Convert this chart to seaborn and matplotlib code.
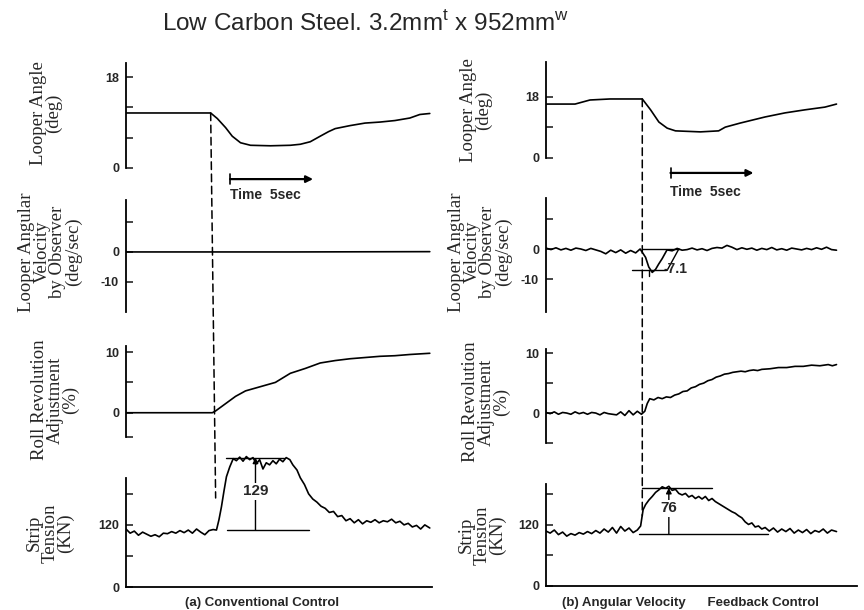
import numpy as np
import matplotlib
matplotlib.use("Agg")
import matplotlib.pyplot as plt
from matplotlib.patches import ConnectionPatch
import seaborn as sns

# ---- data (time in s) ----
# (a) conventional control
angle_a_t = [0, 2.65, 5.1, 5.5, 6.0, 6.4, 6.9, 7.5, 8.7, 9.9, 10.5, 11.1, 11.7, 12.2, 12.6,
             13.5, 14.4, 15.3, 16.2, 17.1, 17.7, 18.3]
angle_a_v = [10.9, 10.9, 10.9, 9.8, 8.0, 6.3, 5.0, 4.5, 4.4, 4.5, 4.7, 5.2, 6.3, 7.2, 7.8,
             8.4, 8.9, 9.1, 9.4, 9.9, 10.6, 10.8]

vel_a_t = [0, 5.1, 10.0, 18.3]
vel_a_v = [0, 0, 0, 0.1]

roll_a_t = [0, 3.0, 5.2, 5.4, 6.0, 6.6, 7.2, 8.1, 9.0, 9.9, 10.8, 11.7, 12.6, 13.5, 14.4,
            15.3, 16.2, 17.1, 18.3]
roll_a_v = [0, 0, 0, 0.3, 1.5, 2.7, 3.6, 4.3, 5.0, 6.5, 7.3, 8.2, 8.6, 8.9, 9.1,
            9.3, 9.4, 9.6, 9.8]

ten_a_t = [0, 0.25, 0.5, 0.75, 1.0, 1.25, 1.5, 1.75, 2.0, 2.25, 2.5, 2.75, 3.0, 3.25, 3.5,
           3.75, 4.0, 4.25, 4.5, 4.75, 5.0, 5.25,
           5.45, 5.6, 5.75, 5.9, 6.05, 6.25, 6.46, 6.65, 6.85, 7.05, 7.25, 7.45, 7.65, 7.85,
           8.05, 8.25, 8.45, 8.65, 8.85, 9.05, 9.25, 9.45, 9.65, 9.87, 10.05, 10.3, 10.5,
           10.75, 11.0, 11.25, 11.5, 11.75, 12.0, 12.25, 12.5, 12.75, 13.0, 13.25, 13.5, 13.75,
           14.0, 14.25, 14.5, 14.75, 15.0, 15.25, 15.5, 15.75, 16.0, 16.25, 16.5, 16.75, 17.0,
           17.25, 17.5, 17.75, 18.0, 18.3]
ten_a_v = [112, 104, 108, 100, 106, 102, 98, 101, 97, 104, 103, 107, 104, 109, 105,
           110, 104, 112, 106, 101, 109, 111,
           110, 130, 155, 185, 213, 232, 248, 244, 251, 243, 252, 246, 250, 238,
           246, 228, 240, 236, 244, 238, 247, 242, 250, 246, 236, 226, 211,
           198, 180, 170, 164, 156, 152, 144, 146, 136, 138, 128, 132, 124,
           130, 122, 128, 125, 130, 124, 128, 126, 131, 124, 127, 120, 123,
           116, 119, 112, 120, 114]

# (b) angular velocity feedback control
angle_b_t = [0, 1.75, 2.65, 3.85, 5.8, 6.3, 6.8, 7.3, 7.8, 9.3, 10.4, 10.8, 11.7, 13.2,
             14.4, 15.6, 16.8, 17.5]
angle_b_v = [15.9, 15.9, 17.1, 17.4, 17.4, 14.2, 10.6, 8.8, 8.0, 7.7, 8.0, 9.1, 10.3, 12.1,
             13.3, 14.2, 15.0, 15.9]

vel_b_t = [0, 0.3, 0.6, 0.9, 1.2, 1.5, 1.8, 2.1, 2.4, 2.7, 3.0, 3.3, 3.6, 3.9, 4.2, 4.5,
           4.8, 5.1, 5.4, 5.67, 6.0, 6.19, 6.4, 6.6, 6.79, 7.0, 7.29,
           7.6, 7.9, 8.2, 8.5, 8.8, 9.1, 9.4, 9.7, 10.0, 10.3, 10.6, 10.9, 11.2, 11.5, 11.8,
           12.1, 12.4, 12.7, 13.0, 13.3, 13.6, 13.9, 14.2, 14.5, 14.8, 15.1, 15.4, 15.7, 16.0,
           16.3, 16.6, 16.9, 17.2, 17.5]
vel_b_v = [0.3, -0.2, 0.4, -0.3, 0.2, -0.4, 0.3, 0.0, -0.5, 0.2, -0.3, -0.8, -1.6, -0.4,
           -1.2, -0.3, -1.4, -0.5, -1.3, 0.0, -2.8, -6.0, -7.8, -6.8, -5.0, -3.2, -0.3,
           -0.6, 0.2, -0.4, -0.2, 0.3, -0.3, 0.1, -0.5, 0.2, 0.5, 0.3, 1.2, 0.6, -0.2, 0.4,
           -0.1, 0.3, -0.4, 0.2, -0.2, 0.5, -0.3, 0.1, -0.4, 0.3, 0.0, -0.3, 0.2, -0.2,
           0.4, -0.1, 0.6, -0.2, -0.4]

roll_b_t = [0, 0.25, 0.5, 0.75, 1.0, 1.25, 1.5, 1.75, 2.0, 2.25, 2.5, 2.75, 3.0, 3.25, 3.5,
            3.75, 4.0, 4.25, 4.5, 4.75, 5.0, 5.25, 5.5, 5.75,
            5.95, 6.1, 6.25, 6.5, 6.75, 7.0, 7.25, 7.5, 7.75, 8.0, 8.25, 8.5, 8.75, 9.0,
            9.25, 9.5, 9.75, 10.0, 10.25, 10.5, 10.75, 11.0, 11.25, 11.5, 11.75, 12.0,
            12.25, 12.5, 12.75, 13.0, 13.5, 14.0, 14.5, 15.0, 15.5, 16.0, 16.5, 17.0,
            17.25, 17.5]
roll_b_v = [0.1, -0.1, 0.2, -0.2, 0.1, 0.0, -0.2, 0.2, -0.1, 0.1, -0.2, 0.1, 0.0, -0.3,
            0.1, -0.1, -0.2, -0.3, 0.2, -0.4, 0.4, -0.3, 0.3, -0.2,
            0.3, 1.6, 2.4, 2.2, 2.6, 2.4, 2.7, 2.6, 3.0, 3.2, 3.6, 3.7, 4.2, 4.4,
            4.8, 5.0, 5.4, 5.6, 6.0, 6.2, 6.5, 6.6, 6.8, 6.9, 7.0, 6.9,
            7.1, 7.2, 7.1, 7.3, 7.4, 7.6, 7.6, 7.8, 7.8, 8.0, 7.9, 8.1,
            7.9, 8.1]

ten_b_t = [0, 0.25, 0.5, 0.75, 1.0, 1.25, 1.5, 1.75, 2.0, 2.25, 2.5, 2.75, 3.0, 3.25, 3.5,
           3.75, 4.0, 4.25, 4.5, 4.75, 5.0, 5.25, 5.5,
           5.7, 5.85, 6.0, 6.2, 6.4, 6.6, 6.8, 7.0, 7.2, 7.4, 7.6, 7.8, 8.0, 8.2, 8.4, 8.6,
           8.8, 9.0, 9.2, 9.4, 9.6, 9.8, 10.0, 10.2, 10.4, 10.6, 10.8, 11.0, 11.2, 11.4,
           11.6, 11.8, 12.0, 12.2, 12.4, 12.6, 12.8, 13.0, 13.2, 13.45, 13.7, 13.95, 14.2,
           14.45, 14.7, 14.95, 15.2, 15.45, 15.7, 15.95, 16.2, 16.45, 16.7, 16.95, 17.2, 17.5]
ten_b_v = [108, 104, 110, 101, 106, 98, 103, 100, 105, 102, 107, 103, 109, 104, 112,
           106, 115, 104, 117, 108, 114, 105, 110,
           118, 150, 160, 169, 176, 184, 189, 195, 192, 196, 188, 190, 182, 179, 182, 175,
           178, 172, 176, 171, 176, 168, 172, 166, 162, 158, 154, 150, 146, 143,
           138, 134, 126, 121, 124, 116, 118, 112, 115, 108, 114, 106, 112,
           107, 113, 104, 110, 105, 111, 103, 109, 106, 112, 104, 110, 107]

# annotation levels
peak_a, base_a = 250, 110
peak_b, base_b = 193, 102
dip_b = -7.1

W, H = 864, 610

sns.set_style("ticks")
plt.rcParams['font.family'] = ['Liberation Sans', 'DejaVu Sans']
plt.rcParams['mathtext.fontset'] = 'custom'
plt.rcParams['mathtext.rm'] = 'Liberation Sans'

fig = plt.figure(figsize=(W / 100, H / 100), dpi=100)


def px_axes(x0, y0, x1, y1):
    return fig.add_axes([x0 / W, 1 - y1 / H, (x1 - x0) / W, (y1 - y0) / H])


def style_axis(ax, ylim, ticks, labels, xmax, bottom=False, bounds=None):
    ax.set_xlim(0, xmax)
    ax.set_ylim(*ylim)
    ax.set_xticks([])
    ax.set_yticks(ticks)
    ax.set_yticklabels(labels, fontweight='bold', fontsize=9)
    ax.tick_params(axis='y', direction='in', length=5, width=1.2, pad=5)
    ax.set_xlabel('')
    ax.set_ylabel('')
    sns.despine(ax=ax, bottom=not bottom)
    for s in ax.spines.values():
        s.set_linewidth(1.3)
        s.set_color('black')
    if bounds is not None:
        ax.spines['left'].set_bounds(*bounds)
    ax.patch.set_alpha(0)


def trace(ax, t, v):
    sns.lineplot(x=t, y=v, ax=ax, color='black', linewidth=1.2)


xa = 306 / 16.6
xb = 311 / 16.6

# ---- left column ----
a1 = px_axes(126, 63, 432, 168)
trace(a1, angle_a_t, angle_a_v)
style_axis(a1, (0, 20.8), [0, 6, 12, 18], ['0', '', '', '18'], xa)

a2 = px_axes(126, 200, 432, 312)
trace(a2, vel_a_t, vel_a_v)
style_axis(a2, (-20, 17.3), [-10, 0, 10], ['-10', '0', ''], xa)

a3 = px_axes(126, 346, 432, 437)
trace(a3, roll_a_t, roll_a_v)
style_axis(a3, (-4, 11), [-4, 0, 5, 10], ['', '0', '', '10'], xa)

a4 = px_axes(126, 440, 432, 587)
trace(a4, ten_a_t, ten_a_v)
style_axis(a4, (0, 284), [0, 60, 120, 180], ['0', '', '120', ''], xa, bottom=True, bounds=(0, 211))

# ---- right column ----
b1 = px_axes(546, 62, 857, 158)
trace(b1, angle_b_t, angle_b_v)
style_axis(b1, (0, 28.3), [0, 9, 18], ['0', '', '18'], xb)

b2 = px_axes(546, 198, 857, 312)
trace(b2, vel_b_t, vel_b_v)
style_axis(b2, (-21, 17), [-10, 0, 10], ['-10', '0', ''], xb)

b3 = px_axes(546, 349, 857, 443)
trace(b3, roll_b_t, roll_b_v)
style_axis(b3, (-5, 10.7), [-5, 0, 5, 10], ['', '0', '', '10'], xb)

b4 = px_axes(546, 440, 857, 586)
trace(b4, ten_b_t, ten_b_v)
style_axis(b4, (0, 287), [0, 60, 120, 180], ['0', '', '120', ''], xb, bottom=True, bounds=(0, 200))

# time scale arrows
for ax, t0, ya, yt, half in [(a1, 6.27, -2.2, -5.4, 1.0), (b1, 7.5, -4.4, -10.0, 1.5)]:
    ax.annotate('', xy=(t0 + 5, ya), xytext=(t0, ya), annotation_clip=False,
                arrowprops=dict(arrowstyle='-|>', color='black', lw=1.6,
                                mutation_scale=10, shrinkA=0, shrinkB=0))
    ax.plot([t0, t0], [ya - half, ya + half], color='black', lw=1.2, clip_on=False)
    ax.text(t0, yt, 'Time  5sec', ha='left', va='center', fontsize=10, fontweight='bold')

# dashed event lines
for top, bot, ta, va, tb, vb in [(a1, a4, 5.1, 10.9, 5.4, 172), (b1, b4, 5.8, 17.4, 5.8, 138)]:
    con = ConnectionPatch(xyA=(ta, va), coordsA=top.transData, xyB=(tb, vb), coordsB=bot.transData,
                          linestyle=(0, (5, 3)), color='black', lw=1.1)
    fig.add_artist(con)

# tension annotations
for ax, tl0, tl1, tb0, tb1, tv, pk, bs, lab in [(a4, 6.0, 9.5, 6.1, 11.0, 7.8, peak_a, base_a, '129'),
                                                (b4, 5.8, 10.0, 5.6, 13.4, 7.4, peak_b, base_b, '76')]:
    ax.plot([tl0, tl1], [pk, pk], color='black', lw=1.0)
    ax.plot([tb0, tb1], [bs, bs], color='black', lw=1.0)
    ax.annotate('', xy=(tv, pk), xytext=(tv, bs),
                arrowprops=dict(arrowstyle='-|>', color='black', lw=1.0, mutation_scale=8,
                                shrinkA=0, shrinkB=0))
    ax.text(tv, (pk + bs) / 2 + 5, lab, ha='center', va='center', fontsize=11, fontweight='bold',
            bbox=dict(facecolor='white', edgecolor='none', pad=1))

# velocity dip annotation
b2.plot([5.2, 7.2], [dip_b, dip_b], color='black', lw=1.0)
b2.plot([5.8, 8.0], [0, 0], color='black', lw=1.0)
b2.plot([6.2, 6.2], [dip_b, dip_b - 2.0], color='black', lw=1.0)
b2.plot([8.0, 7.3], [0, dip_b], color='black', lw=1.0)
b2.text(7.1, dip_b + 0.3, '-7.1', ha='left', va='center', fontsize=10, fontweight='bold')

# axis titles
serif = ['Liberation Serif', 'DejaVu Serif']
ylabels = [
    (46, 113, 'Looper Angle\n(deg)'),
    (50, 252, 'Looper Angular\nVelocity\nby Observer\n(deg/sec)'),
    (55, 400, 'Roll Revolution\nAdjustment\n(%)'),
    (50, 533, 'Strip\nTension\n(KN)'),
    (476, 110, 'Looper Angle\n(deg)'),
    (480, 252, 'Looper Angular\nVelocity\nby Observer\n(deg/sec)'),
    (486, 402, 'Roll Revolution\nAdjustment\n(%)'),
    (482, 535, 'Strip\nTension\n(KN)'),
]
for x, y, s in ylabels:
    fig.text(x / W, 1 - y / H, s, rotation=90, ha='center', va='center', multialignment='center',
             family=serif, fontsize=13.5, linespacing=0.9)

fig.text(366 / W, 1 - 23 / H, r'Low Carbon Steel. 3.2mm$^{\mathrm{t}}$ x 952mm$^{\mathrm{w}}$',
         ha='center', va='center', fontsize=17.5)
fig.text(262 / W, 1 - 603 / H, '(a) Conventional Control', ha='center', va='center',
         fontsize=9.5, fontweight='bold')
fig.text(690 / W, 1 - 603 / H, '(b) Angular Velocity      Feedback Control', ha='center',
         va='center', fontsize=9.5, fontweight='bold')

fig.savefig('out.png', dpi=100)
